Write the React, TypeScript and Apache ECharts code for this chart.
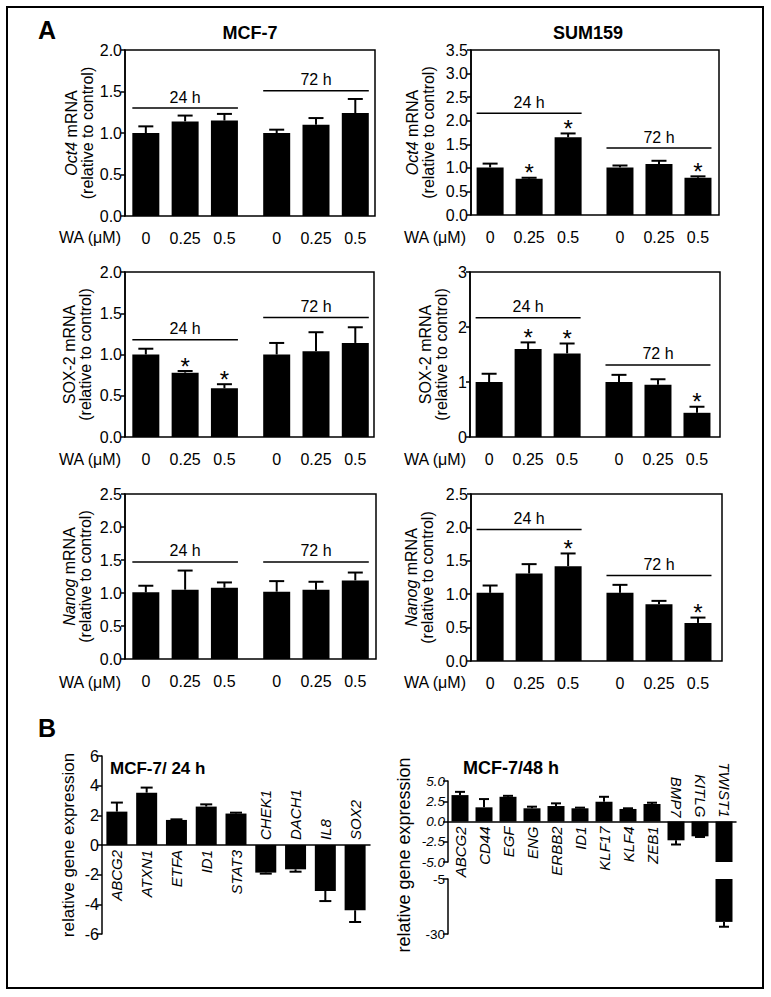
import React, { useEffect, useRef } from "react";
import * as echarts from "echarts";

const FONT = "'Liberation Sans', Arial, Helvetica, sans-serif";

// ---------- Panel A data ----------
const doseLabels = ["0", "0.25", "0.5", "0", "0.25", "0.5"];
const timeLabels = ["24 h", "72 h"];

const mcfOct4 = [1.0, 1.14, 1.15, 1.0, 1.1, 1.24];
const mcfOct4Err = [0.08, 0.07, 0.08, 0.04, 0.08, 0.17];
const mcfOct4Star = [0, 0, 0, 0, 0, 0];
const mcfOct4Bracket = [1.3, 1.51];

const sumOct4 = [1.01, 0.77, 1.65, 1.01, 1.08, 0.79];
const sumOct4Err = [0.08, 0.02, 0.08, 0.04, 0.07, 0.03];
const sumOct4Star = [0, 1, 1, 0, 0, 1];
const sumOct4Bracket = [2.16, 1.42];

const mcfSox2 = [1.0, 0.78, 0.59, 1.0, 1.04, 1.14];
const mcfSox2Err = [0.07, 0.02, 0.05, 0.14, 0.23, 0.19];
const mcfSox2Star = [0, 1, 1, 0, 0, 0];
const mcfSox2Bracket = [1.18, 1.45];

const sumSox2 = [1.0, 1.6, 1.52, 1.0, 0.95, 0.44];
const sumSox2Err = [0.15, 0.12, 0.18, 0.13, 0.1, 0.11];
const sumSox2Star = [0, 1, 1, 0, 0, 1];
const sumSox2Bracket = [2.17, 1.31];

const mcfNanog = [1.01, 1.05, 1.08, 1.02, 1.05, 1.19];
const mcfNanogErr = [0.1, 0.29, 0.08, 0.16, 0.12, 0.12];
const mcfNanogStar = [0, 0, 0, 0, 0, 0];
const mcfNanogBracket = [1.47, 1.47];

const sumNanog = [1.02, 1.31, 1.42, 1.02, 0.85, 0.57];
const sumNanogErr = [0.11, 0.14, 0.19, 0.12, 0.05, 0.08];
const sumNanogStar = [0, 0, 1, 0, 0, 1];
const sumNanogBracket = [1.97, 1.28];

// ---------- Panel B data ----------
const genes24 = ["ABCG2", "ATXN1", "ETFA", "ID1", "STAT3", "CHEK1", "DACH1", "IL8", "SOX2"];
const vals24 = [2.25, 3.53, 1.69, 2.59, 2.12, -1.86, -1.64, -3.1, -4.4];
const errs24 = [0.61, 0.34, 0.04, 0.15, 0.06, 0.07, 0.16, 0.68, 0.79];

const genes48 = ["ABCG2", "CD44", "EGF", "ENG", "ERBB2", "ID1", "KLF17", "KLF4", "ZEB1", "BMP7", "KITLG", "TWIST1"];
const vals48 = [3.26, 1.75, 3.05, 1.63, 1.91, 1.63, 2.44, 1.55, 2.16, -2.32, -1.83, -24.5];
const errs48 = [0.4, 1.02, 0.12, 0.2, 0.33, 0.08, 0.61, 0.08, 0.16, 0.52, 0.08, 2.2];

const upperTicks = [-5, -2.5, 0, 2.5, 5];
const lowerTicks = [-30, -5];

// ---------- layout ----------
const GAP = 0.33;
const pos = (i: number) => i + (i >= 3 ? GAP : 0);
const BAR_A = 27;

const grids = [
  { left: 125, top: 50, width: 250, height: 166 },
  { left: 471, top: 50, width: 248, height: 165 },
  { left: 125, top: 272, width: 249, height: 165 },
  { left: 470, top: 272, width: 250, height: 165 },
  { left: 125, top: 494, width: 251, height: 165 },
  { left: 471, top: 494, width: 251, height: 167 },
  { left: 102, top: 756, width: 268, height: 178 },
  { left: 448, top: 781, width: 288, height: 81 },
  { left: 448, top: 879, width: 288, height: 55 },
];

const panelsA = [
  { vals: mcfOct4, errs: mcfOct4Err, stars: mcfOct4Star, br: mcfOct4Bracket, max: 2, interval: 0.5, dec: 1, name: "{i|Oct4} mRNA\n(relative to control)", gap: 30, right: false },
  { vals: sumOct4, errs: sumOct4Err, stars: sumOct4Star, br: sumOct4Bracket, max: 3.5, interval: 0.5, dec: 1, name: "{i|Oct4} mRNA\n(relative to control)", gap: 35, right: true },
  { vals: mcfSox2, errs: mcfSox2Err, stars: mcfSox2Star, br: mcfSox2Bracket, max: 2, interval: 0.5, dec: 1, name: "SOX-2 mRNA\n(relative to control)", gap: 32, right: false },
  { vals: sumSox2, errs: sumSox2Err, stars: sumSox2Star, br: sumSox2Bracket, max: 3, interval: 1, dec: 0, name: "SOX-2 mRNA\n(relative to control)", gap: 21, right: true },
  { vals: mcfNanog, errs: mcfNanogErr, stars: mcfNanogStar, br: mcfNanogBracket, max: 2.5, interval: 0.5, dec: 1, name: "{i|Nanog} mRNA\n(relative to control)", gap: 32, right: false },
  { vals: sumNanog, errs: sumNanogErr, stars: sumNanogStar, br: sumNanogBracket, max: 2.5, interval: 0.5, dec: 1, name: "{i|Nanog} mRNA\n(relative to control)", gap: 36, right: true },
];

const black = "#000";

function txt(x: number, y: number, text: string, extra: any = {}) {
  return {
    type: "text",
    x,
    y,
    style: {
      text,
      fill: black,
      fontFamily: FONT,
      fontSize: 16,
      align: "center",
      verticalAlign: "middle",
      ...extra,
    },
  };
}

function buildOption() {
  const xAxis: any[] = [];
  const yAxis: any[] = [];
  const series: any[] = [];

  panelsA.forEach((p, g) => {
    const unit = p.right ? 39 : 39.3;
    const xmin = p.right ? -0.49 : -0.53;
    xAxis.push({ type: "value", gridIndex: g, min: xmin, max: xmin + grids[g].width / unit, show: false });
    yAxis.push({
      type: "value",
      gridIndex: g,
      min: 0,
      max: p.max,
      interval: p.interval,
      axisLine: { show: true, onZero: false, lineStyle: { color: black, width: 1.5 } },
      axisTick: { show: true, length: 4, lineStyle: { color: black, width: 1.5 } },
      axisLabel: { color: black, fontSize: 16, fontFamily: FONT, margin: 3, formatter: (v: number) => v.toFixed(p.dec) },
      splitLine: { show: false },
      name: p.name,
      nameLocation: "middle",
      nameGap: p.gap,
      nameTextStyle: {
        color: black,
        fontSize: 16,
        fontFamily: FONT,
        lineHeight: 16,
        rich: { i: { fontStyle: "italic", fontSize: 16, fontFamily: FONT, color: black, lineHeight: 16 } },
      },
    });
    series.push({
      type: "bar",
      xAxisIndex: g,
      yAxisIndex: g,
      barWidth: BAR_A,
      itemStyle: { color: black },
      data: p.vals.map((v, i) => [pos(i), v]),
    });
    series.push({
      type: "custom",
      xAxisIndex: g,
      yAxisIndex: g,
      encode: { x: 0, y: 1 },
      data: p.vals.map((v, i) => [pos(i), v, p.errs[i], p.stars[i]]),
      renderItem: (params: any, api: any) => {
        const x = api.value(0);
        const v = api.value(1);
        const e = api.value(2);
        const s = api.value(3);
        const b = api.coord([x, v]);
        const t = api.coord([x, v + e]);
        const children: any[] = [
          { type: "line", shape: { x1: b[0], y1: b[1], x2: t[0], y2: t[1] }, style: { stroke: black, lineWidth: 2 } },
          { type: "line", shape: { x1: t[0] - 7.5, y1: t[1], x2: t[0] + 7.5, y2: t[1] }, style: { stroke: black, lineWidth: 2 } },
        ];
        if (s) children.push(txt(t[0], t[1] - 5, "*", { fontSize: 24 }));
        return { type: "group", children };
      },
    });
    series.push({
      type: "custom",
      xAxisIndex: g,
      yAxisIndex: g,
      encode: { x: [0, 1], y: 2 },
      data: [
        [pos(0), pos(2), p.br[0], 0],
        [pos(3), pos(5), p.br[1], 1],
      ],
      renderItem: (params: any, api: any) => {
        const a = api.coord([api.value(0), api.value(2)]);
        const c = api.coord([api.value(1), api.value(2)]);
        const x1 = a[0] - BAR_A / 2;
        const x2 = c[0] + BAR_A / 2;
        return {
          type: "group",
          children: [
            { type: "line", shape: { x1, y1: a[1], x2, y2: a[1] }, style: { stroke: black, lineWidth: 1.5 } },
            txt((x1 + x2) / 2, a[1] - 11, timeLabels[api.value(3)]),
          ],
        };
      },
    });
    series.push({
      type: "custom",
      xAxisIndex: g,
      yAxisIndex: g,
      encode: { x: 0, y: 1 },
      data: doseLabels.map((d, i) => [pos(i), 0, i]),
      renderItem: (params: any, api: any) => {
        const c = api.coord([api.value(0), 0]);
        return txt(c[0], c[1] + 22, doseLabels[api.value(2)]);
      },
    });
  });

  // ---- Panel B left (grid 6) ----
  xAxis.push({
    type: "category",
    gridIndex: 6,
    data: genes24,
    axisLine: { show: true, onZero: true, lineStyle: { color: black, width: 1.5 } },
    axisTick: { show: false },
    axisLabel: { show: false },
  });
  yAxis.push({
    type: "value",
    gridIndex: 6,
    min: -6,
    max: 6,
    interval: 2,
    axisLine: { show: true, onZero: false, lineStyle: { color: black, width: 1.5 } },
    axisTick: { show: true, length: 5, lineStyle: { color: black, width: 1.5 } },
    axisLabel: { color: black, fontSize: 16, fontFamily: FONT, margin: 3 },
    splitLine: { show: false },
    name: "relative gene expression",
    nameLocation: "middle",
    nameGap: 25,
    nameTextStyle: { color: black, fontSize: 17, fontFamily: FONT },
  });
  series.push({ type: "bar", xAxisIndex: 6, yAxisIndex: 6, barWidth: 21, itemStyle: { color: black }, data: vals24 });

  const errRender = (cap: number) => (params: any, api: any) => {
    const i = api.value(0);
    const v = api.value(1);
    const e = api.value(2);
    const b = api.coord([i, v]);
    const t = api.coord([i, v >= 0 ? v + e : v - e]);
    return {
      type: "group",
      children: [
        { type: "line", shape: { x1: b[0], y1: b[1], x2: t[0], y2: t[1] }, style: { stroke: black, lineWidth: 2 } },
        { type: "line", shape: { x1: t[0] - cap / 2, y1: t[1], x2: t[0] + cap / 2, y2: t[1] }, style: { stroke: black, lineWidth: 2 } },
      ],
    };
  };
  series.push({
    type: "custom",
    xAxisIndex: 6,
    yAxisIndex: 6,
    encode: { x: 0, y: 1 },
    data: vals24.map((v, i) => [i, v, errs24[i]]),
    renderItem: errRender(12),
  });
  series.push({
    type: "custom",
    xAxisIndex: 6,
    yAxisIndex: 6,
    encode: { x: 0, y: 1 },
    data: genes24.map((g, i) => [i, vals24[i], i]),
    renderItem: (params: any, api: any) => {
      const c = api.coord([api.value(0), 0]);
      const v = api.value(1);
      const label = genes24[api.value(2)];
      return v >= 0
        ? { ...txt(c[0], c[1] + 5, label, { fontStyle: "italic", fontSize: 15, align: "right" }), rotation: Math.PI / 2 }
        : { ...txt(c[0], c[1] - 5, label, { fontStyle: "italic", fontSize: 15, align: "left" }), rotation: Math.PI / 2 };
    },
  });

  // ---- Panel B right upper (grid 7) ----
  xAxis.push({
    type: "category",
    gridIndex: 7,
    data: genes48,
    axisLine: { show: true, onZero: true, lineStyle: { color: black, width: 1.5 } },
    axisTick: { show: false },
    axisLabel: { show: false },
  });
  yAxis.push({
    type: "value",
    gridIndex: 7,
    min: upperTicks[0],
    max: upperTicks[upperTicks.length - 1],
    interval: 2.5,
    axisLine: { show: true, onZero: false, lineStyle: { color: black, width: 1.5 } },
    axisTick: { show: true, length: 5, lineStyle: { color: black, width: 1.5 } },
    axisLabel: { color: black, fontSize: 13.5, lineHeight: 12, fontStyle: "italic", fontFamily: FONT, margin: 3, formatter: (v: number) => v.toFixed(1) },
    splitLine: { show: false },
  });
  series.push({ type: "bar", xAxisIndex: 7, yAxisIndex: 7, barWidth: 17, clip: true, itemStyle: { color: black }, data: vals48 });
  series.push({
    type: "custom",
    xAxisIndex: 7,
    yAxisIndex: 7,
    encode: { x: 0, y: 1 },
    data: vals48.map((v, i) => [i, v, errs48[i]]).filter((d) => d[1] >= -5),
    renderItem: errRender(10),
  });
  series.push({
    type: "custom",
    xAxisIndex: 7,
    yAxisIndex: 7,
    encode: { x: 0, y: 1 },
    data: genes48.map((g, i) => [i, vals48[i], i]),
    renderItem: (params: any, api: any) => {
      const c = api.coord([api.value(0), 0]);
      const v = api.value(1);
      const label = genes48[api.value(2)];
      return v >= 0
        ? { ...txt(c[0], c[1] + 5, label, { fontStyle: "italic", fontSize: 15, align: "right" }), rotation: Math.PI / 2 }
        : { ...txt(c[0], c[1] - 4, label, { fontStyle: "italic", fontSize: 15, align: "right" }), rotation: -Math.PI / 2 };
    },
  });

  // ---- Panel B right lower (grid 8) ----
  xAxis.push({ type: "category", gridIndex: 8, data: genes48, show: false });
  yAxis.push({
    type: "value",
    gridIndex: 8,
    min: lowerTicks[0],
    max: lowerTicks[lowerTicks.length - 1],
    axisLine: { show: true, onZero: false, lineStyle: { color: black, width: 1.5 } },
    axisTick: { show: true, length: 5, lineStyle: { color: black, width: 1.5 }, customValues: lowerTicks },
    axisLabel: { color: black, fontSize: 13.5, lineHeight: 12, fontFamily: FONT, margin: 3, customValues: lowerTicks },
    splitLine: { show: false },
  });
  series.push({
    type: "bar",
    xAxisIndex: 8,
    yAxisIndex: 8,
    barWidth: 17,
    clip: true,
    itemStyle: { color: black },
    data: vals48.map((v) => (v < -5 ? v : "-")),
  });
  series.push({
    type: "custom",
    xAxisIndex: 8,
    yAxisIndex: 8,
    encode: { x: 0, y: 1 },
    data: vals48.map((v, i) => [i, v, errs48[i]]).filter((d) => d[1] < -5),
    renderItem: errRender(10),
  });

  const graphic: any[] = [
    { type: "rect", shape: { x: 7, y: 7, width: 756, height: 981 }, style: { fill: "none", stroke: black, lineWidth: 2 } },
    txt(47, 30, "A", { fontSize: 25, fontWeight: "bold" }),
    txt(47, 728, "B", { fontSize: 25, fontWeight: "bold" }),
    txt(250, 33, "MCF-7", { fontSize: 18, fontWeight: "bold" }),
    txt(588, 33, "SUM159", { fontSize: 18, fontWeight: "bold" }),
    txt(121, 237, "WA (μM)", { align: "right" }),
    txt(466, 237, "WA (μM)", { align: "right" }),
    txt(121, 459, "WA (μM)", { align: "right" }),
    txt(466, 459, "WA (μM)", { align: "right" }),
    txt(121, 682, "WA (μM)", { align: "right" }),
    txt(466, 682, "WA (μM)", { align: "right" }),
    txt(110, 768, "MCF-7/ 24 h", { fontSize: 17, fontWeight: "bold", align: "left" }),
    txt(463, 768, "MCF-7/48 h", { fontSize: 18, fontWeight: "bold", align: "left" }),
    { ...txt(404, 855, "relative gene expression", { fontSize: 18 }), rotation: Math.PI / 2 },
  ];

  return {
    animation: false,
    backgroundColor: "#fff",
    textStyle: { fontFamily: FONT },
    grid: grids.map((g, i) => ({
      ...g,
      containLabel: false,
      show: i < 6,
      borderColor: black,
      borderWidth: 1.5,
    })),
    xAxis,
    yAxis,
    series,
    graphic,
  };
}

export default function App() {
  const ref = useRef<HTMLDivElement>(null);
  useEffect(() => {
    const chart = echarts.init(ref.current!, undefined, { renderer: "svg", width: 771, height: 997 });
    chart.setOption(buildOption() as any);
    return () => chart.dispose();
  }, []);
  return (
    <div
      ref={ref}
      style={{ position: "absolute", left: 0, top: 0, width: 771, height: 997, background: "#fff" }}
    />
  );
}
